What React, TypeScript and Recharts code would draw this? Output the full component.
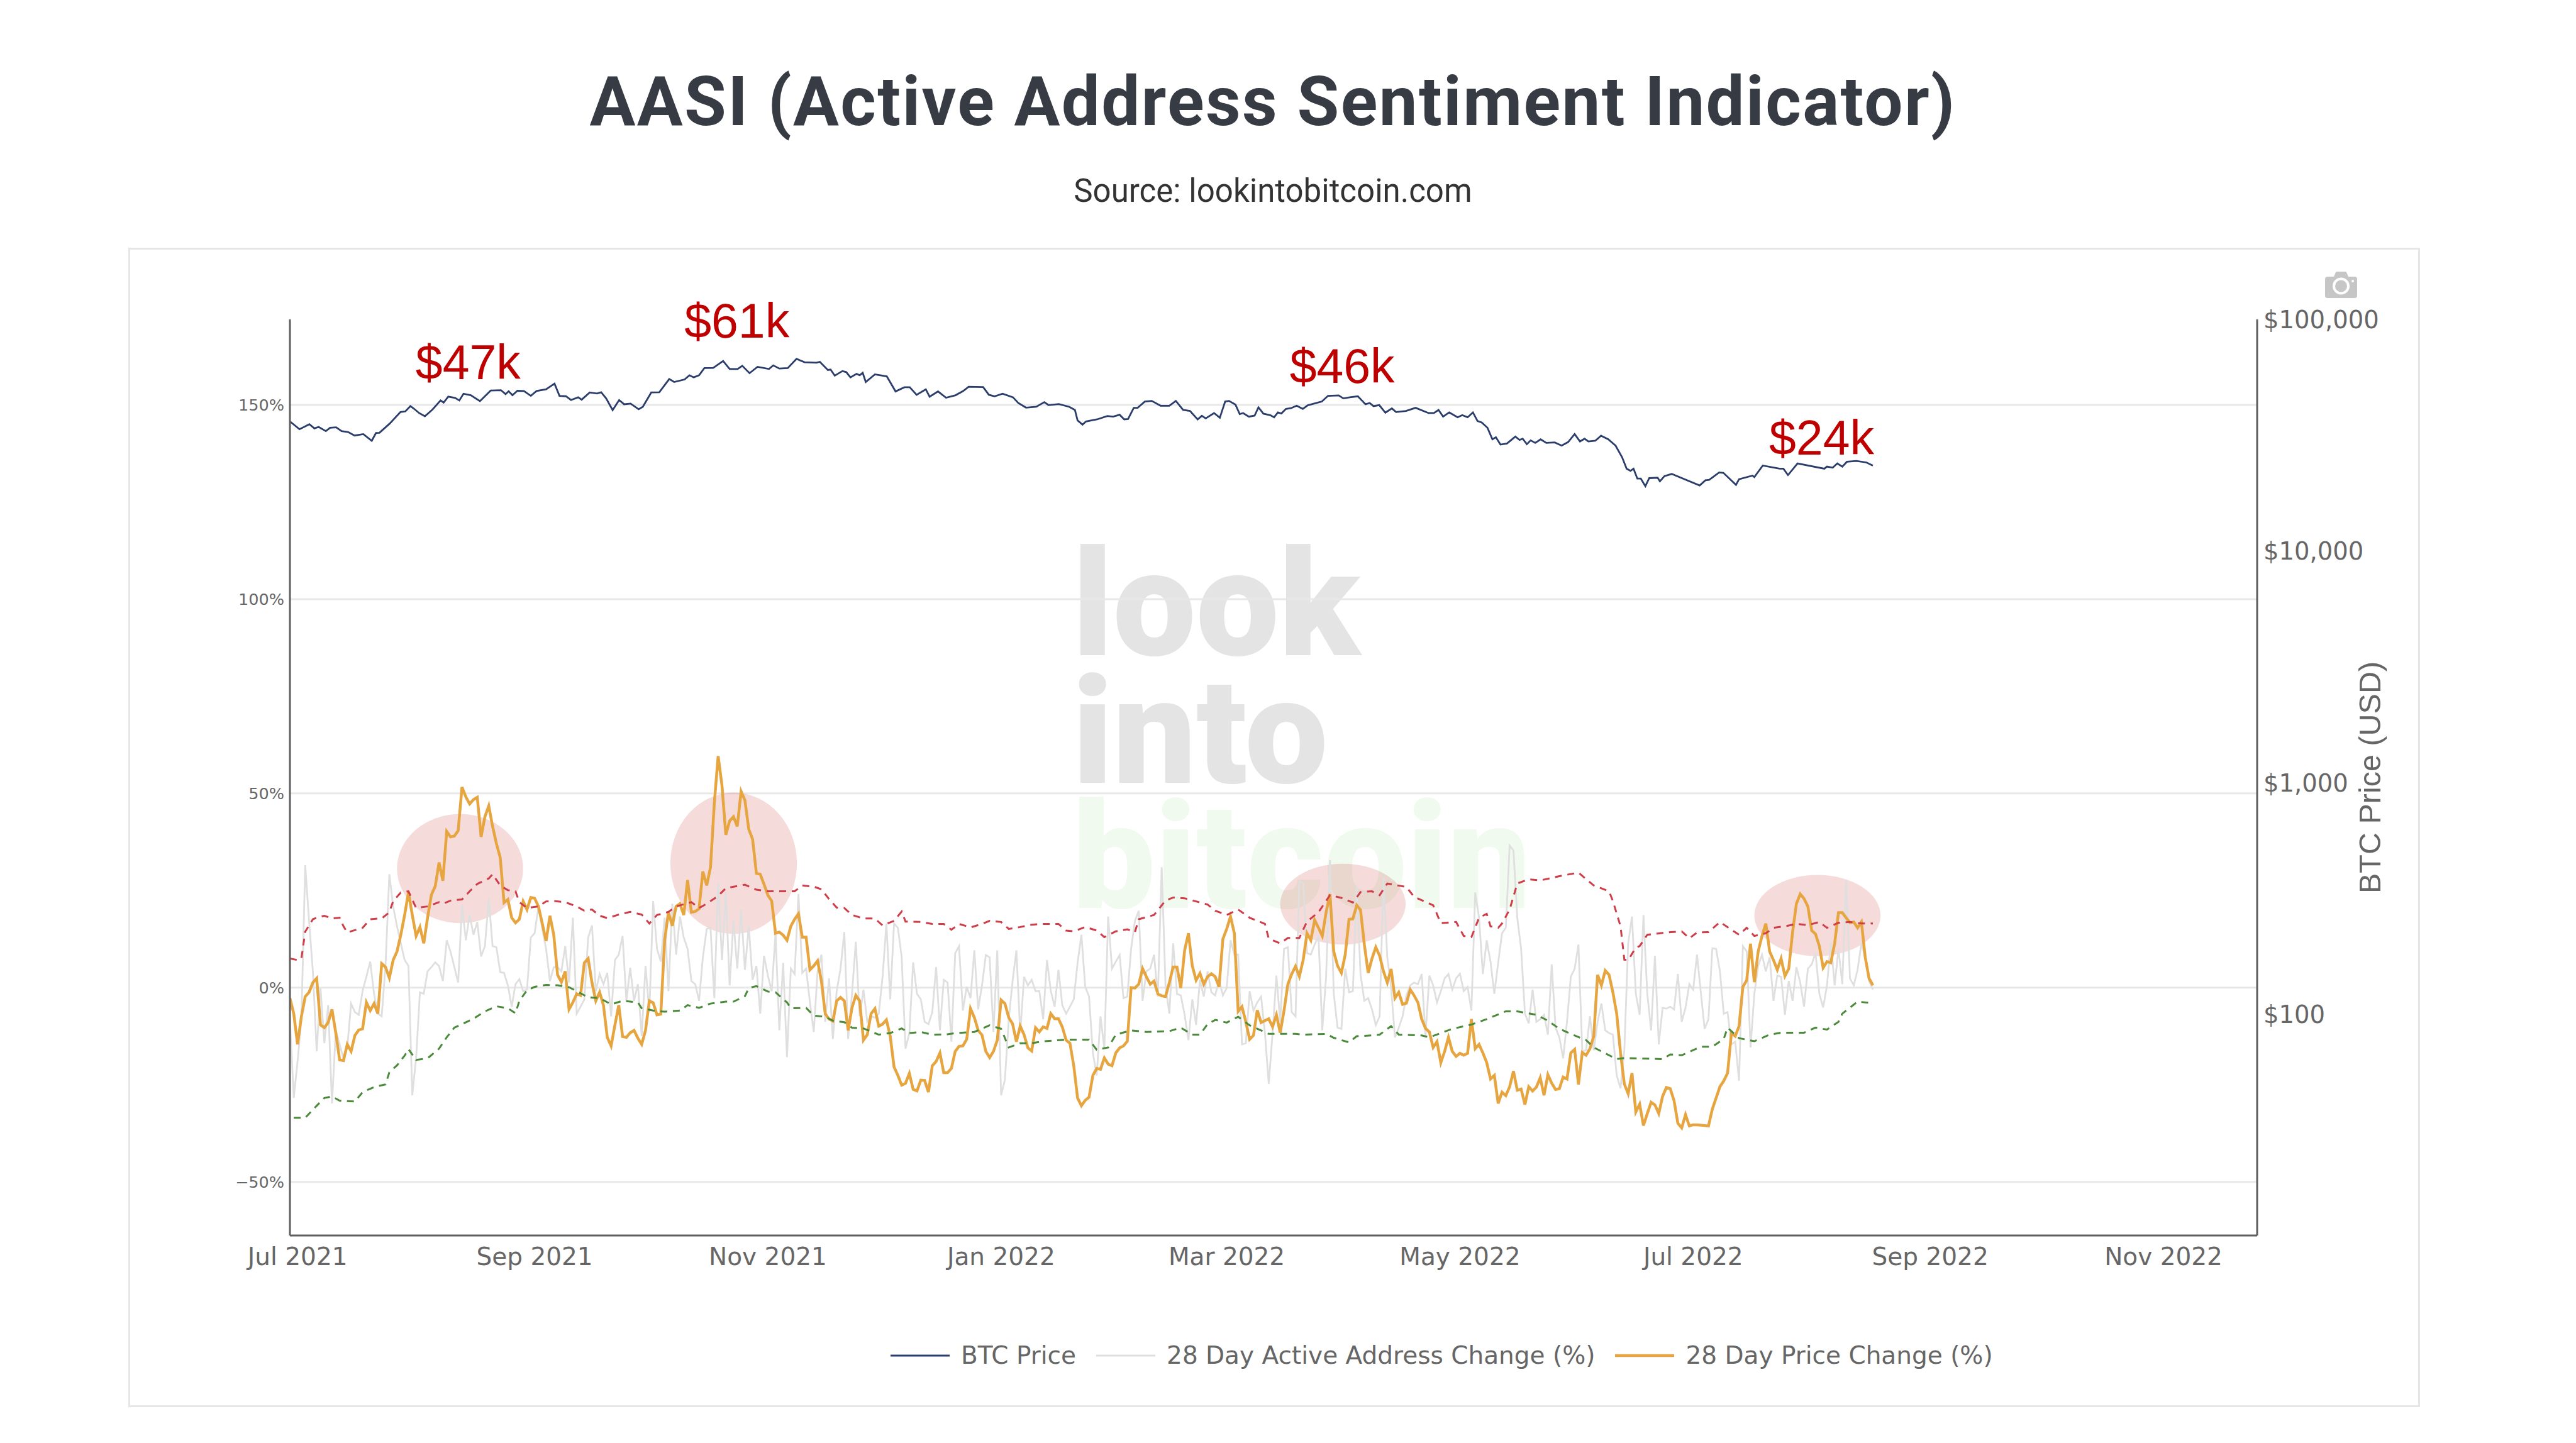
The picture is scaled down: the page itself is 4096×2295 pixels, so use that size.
import React from "react";
import {
  LineChart, Line, XAxis, YAxis, CartesianGrid, Legend, ReferenceArea, ReferenceDot,
} from "recharts";

// All x positions are days counted from 1 Jul 2021
const xTickDays = [0, 62, 123, 184, 243, 304, 365, 427, 488];
const xTickLabels = ["Jul 2021", "Sep 2021", "Nov 2021", "Jan 2022", "Mar 2022", "May 2022", "Jul 2022", "Sep 2022", "Nov 2022"];
const pctTicks = [-50, 0, 50, 100, 150];
const usdTicks = [100, 1000, 10000, 100000];
const firstDailyDay = -2;

const btcDays = [-2,0.5,3.1,4.4,5.5,7.4,8.5,10.1,11.5,13.2,14.9,17.2,19.4,20.5,21.4,24.1,26.9,28.2,29.5,30.5,31.8,33.3,35.3,37.4,38.2,39.4,41.2,42.3,43.4,45.3,47.7,50.5,53.2,54.4,55.2,56.2,57.5,59.2,61,62.5,65,67.2,68.5,70.2,71.5,73.4,74.3,76.4,78.3,79.4,80.7,82.4,84.1,85.4,87.1,89.2,90.3,92.5,94.6,97.2,98.5,101.2,102.5,103.6,105,106.4,108.7,111.3,113,115.1,116.3,118.2,120.3,123.3,124.4,126,128.2,130.5,132.6,135.7,136.6,138.7,139.4,140.5,142.5,143.5,144.6,146.2,147,147.8,148.6,151,154.1,156.4,158.7,160.1,161.9,164.3,165.3,167.5,169.6,172.1,174.1,175.5,179.3,180.8,182.3,184.4,187.1,188.5,190.5,193.2,195.3,196.4,199.1,201.8,
203.3,204,205.3,206.2,209.1,211.8,213.3,215,216.2,217.2,218.7,219.7,221.6,223.4,225.7,228,229.7,231.6,233.4,235.4,236.5,237.5,239.7,241.2,242.6,243.6,245.3,246.4,247.3,248.8,250.3,251.3,252.6,254.4,255.4,256.4,257.3,258.5,259.8,261.3,262.9,264.2,267.9,269.5,272.3,273.5,275.2,277.3,279.3,280.4,281.4,282.9,284.5,286.2,287.3,289.9,292.4,295.8,297.2,298.4,299.6,301.2,303.4,304.6,306,307.4,308.6,309.7,311.2,312.5,313.4,314.6,316.3,318.5,319.6,320.4,321.5,322.5,323.7,325.1,326.6,328.8,330.6,332.3,334,335.4,336.6,337.6,339.4,340.9,342.8,344.7,346.4,347.6,348.6,349.4,350.4,351.3,352.5,353.5,355.7,356.3,357.5,359.4,366.7,368.2,369.2,371.8,372.9,376.2,377,380.5,381,383.2,387.6,388.6,389.8,392.3,399.3,400,401.5,402.7,404,405.2,407.7,410.3,412];
const btcPrice = [36260,33560,35290,33850,34350,32940,34060,34210,32940,32660,31530,31990,29930,32320,32390,35510,39830,40080,42230,41100,39420,38200,40850,44680,43750,46390,45810,44680,47760,47070,44400,49300,49490,47560,48970,47070,49200,49100,46780,49100,49900,52800,46780,46580,44870,46100,45040,48370,47860,48470,45620,40600,44870,43030,43300,40930,41960,48370,48470,55280,53690,55050,57400,56210,57400,61630,61760,66150,61110,61110,63050,58610,62400,61110,63320,61370,61630,67550,65330,65060,65600,60470,60730,57160,59840,59220,56210,58250,57400,58850,53690,57890,56800,48870,50950,50950,47260,49900,46390,48870,45910,47070,49100,51170,51060,47260,46580,47760,46100,43570,41610,41960,43930,42670,43120,41960,
40680,36640,35140,36260,37020,38280,38040,38760,37020,37170,41530,41530,44210,44490,42400,42400,44490,40680,40250,37020,38360,37410,39420,37640,44210,44490,42850,39010,39420,38040,38440,41700,39170,38600,37800,39670,39260,41100,41360,42400,41100,42580,44210,46780,46970,45620,46100,46580,43030,43570,42230,42670,39580,41270,39830,40250,41530,39420,39420,40680,38040,39670,37800,38600,37800,39670,36410,35880,34060,30360,31000,28820,29130,31200,30170,30550,28940,30050,29310,30360,29310,29430,28520,29550,31990,29740,30550,29740,29930,31460,30360,28520,25440,22670,22200,22670,20550,20550,19060,20640,20730,20000,21070,21520,19190,20210,20300,21840,21750,19310,20420,21160,20850,23390,22670,22670,21290,23890,22670,23150,22910,23890,23150,24290,24490,24130,23390];

const priceChange = [-2.7,-6.7,-14.6,-7.4,-2.3,-1.2,1.3,2.4,-9.6,-10.3,-9.0,-5.6,-11.7,-18.6,-18.8,-14.6,-16.4,-12.3,-10.9,-10.6,-3.8,-5.9,-4.1,-6.7,6.2,5.3,2.5,7.1,9.3,13.6,18.7,24.5,18.7,13.3,15.6,11.4,18.0,23.9,26.1,32.2,27.5,40.2,38.8,39.0,40.4,51.6,49.1,47.3,48.4,49.0,38.8,44.0,46.8,41.5,37.1,33.5,21.9,22.7,18.0,16.7,17.6,22.2,20.1,23.2,23.0,20.9,16.5,12.0,18.5,13.6,3.3,1.4,4.2,-5.6,-3.8,-1.6,-2.0,6.4,7.5,1.3,-3.4,-1.2,-4.5,-12.8,-15.0,-9.6,-4.5,-12.6,-12.8,-11.6,-11.0,-13.0,-14.6,-11.0,-3.4,-3.9,-7.0,-6.8,12.2,19.4,15.9,20.9,21.6,18.7,27.7,19.4,19.6,20.3,29.9,26.3,31.0,47.6,59.6,52.0,39.3,42.9,44.0,41.5,50.5,48.2,40.8,38.2,29.4,29.2,26.6,23.8,22.3,14.0,14.3,13.5,12.2,15.8,17.6,19.0,13.0,13.0,4.6,5.6,
6.9,1.7,-6.7,-8.1,-8.6,-3.4,-2.5,-3.4,-11.0,-5.2,-2.0,-3.4,-13.5,-12.1,-6.7,-5.4,-9.9,-9.4,-8.3,-12.5,-20.4,-22.6,-25.1,-24.6,-22.1,-26.2,-26.6,-23.8,-23.9,-26.9,-20.1,-19.0,-16.8,-21.9,-21.9,-20.8,-16.4,-15.1,-15.0,-13.3,-5.4,-7.7,-11.0,-12.2,-16.4,-18.0,-16.4,-13.5,-3.2,-4.1,-7.7,-9.3,-13.9,-9.9,-12.1,-15.5,-16.3,-10.3,-11.4,-10.1,-10.5,-6.7,-8.0,-8.0,-10.1,-13.5,-14.3,-20.1,-28.4,-30.4,-29.0,-28.2,-22.6,-20.8,-21.0,-18.1,-19.7,-20.1,-16.8,-15.5,-15.0,-13.8,0,-0.1,0.9,4.9,2.8,0.9,1.7,-1.6,-2.1,-2.3,1.3,5.3,5.3,-0.1,9.6,14.0,5.6,1.9,3.7,0.9,2.8,3.6,2.8,0.2,12.5,15.1,18.3,14.0,-6.1,-4.9,-8.8,-13.3,-12.3,-5.8,-9.0,-8.5,-8.0,-10.1,-7.0,-11.6,-5.9,0.9,3.5,5.5,2.9,7.1,14.0,12.2,17.4,15.4,13.3,19.4,24.1,
9.3,5.6,3.8,8.5,17.6,17.7,21.2,20.0,11.1,3.8,7.5,10.4,8.2,4.2,1.3,4.8,-2.7,-1.2,-4.3,-4.0,-0.5,-2.0,-3.8,-8.1,-10.5,-11.4,-15.4,-13.9,-19.3,-16.4,-12.8,-16.4,-17.7,-16.9,-17.4,-16.9,-8.1,-15.7,-14.6,-16.8,-19.3,-23.5,-22.6,-29.8,-26.9,-27.8,-25.5,-21.5,-26.4,-26.1,-30.1,-25.5,-26.6,-25.6,-23.2,-27.7,-22.4,-24.6,-26.2,-26.0,-23.0,-23.5,-16.8,-15.9,-24.9,-16.7,-17.4,-15.7,-12.5,3.3,0.6,4.4,3.3,-1.2,-6.7,-16.8,-24.8,-27.3,-22.0,-32.0,-30.0,-35.5,-32.4,-29.5,-30.2,-32.4,-28.0,-25.7,-26.0,-29.1,-34.9,-36.1,-32.7,-35.6,-35.3,-35.3,-35.4,-35.5,-35.6,-31.3,-28.4,-25.5,-24.0,-22.0,-11.7,-12.5,-9.9,0.2,1.9,11.3,1.4,9.3,13.3,16.5,9.3,7.1,4.6,7.5,3.0,4.9,14.3,21.6,24.1,22.9,20.9,14.7,13.8,10.7,5.1,6.7,6.4,11.4,19.3,19.3,18.0,16.7,16.9,15.4,16.9,7.8,2.4,0.6];

const addressChange = [-8.1,-28.4,-19.0,-8.1,31.5,17.2,4.2,-16.4,-0.1,-14.3,-4.5,-29.8,-11.0,-14.6,-18.2,-15.4,-4.1,-6.3,-7.0,-0.9,2.8,6.7,-1.6,-6.7,-7.4,5.6,29.2,20.9,15.8,11.4,7.1,5.6,-27.7,-18.2,-1.2,-1.6,4.2,5.3,6.5,5.6,1.7,12.2,9.3,5.3,1.3,21.2,12.2,18.7,13.6,16.9,8.0,10.7,22.9,10.7,10.4,4.0,3.8,0.6,-4.9,0.9,2.2,-0.9,-0.5,12.9,14.0,20.9,15.1,10.0,1.7,5.3,5.3,4.2,10.7,1.3,18.0,-6.7,-4.9,-3.0,12.9,16.0,-0.9,3.5,0.9,3.8,-7.4,7.1,8.5,13.3,-3.4,5.1,-3.4,0.9,-12.5,5.6,-6.3,22.3,10.0,6.7,18.0,-0.9,21.6,8.5,18.3,12.9,10.0,1.7,0.9,-3.4,7.8,15.1,15.4,-2.7,27.0,7.1,24.5,0.6,17.2,4.9,20.1,4.6,15.8,2.0,5.6,-6.7,8.2,3.1,-0.9,14.0,-11.0,6.4,-17.9,4.9,3.5,24.1,3.8,4.9,-3.8,-11.4,
4.2,8.5,-8.8,2.4,-13.2,-0.9,4.9,14.3,-13.2,-1.6,11.8,-7.4,-0.5,-8.8,-7.4,-7.7,-6.7,2.8,16.5,-3.0,16.5,15.4,7.8,-15.7,-11.7,6.5,-1.6,-3.0,-8.8,-9.4,-6.3,5.3,-11.0,2.0,1.3,-13.9,8.9,10.7,-5.9,0.2,-2.7,9.6,-5.6,0.6,8.4,7.8,-11.4,9.6,-27.7,-23.7,-8.1,1.7,9.6,-11.7,2.8,0.6,2.0,-0.9,-0.9,-8.1,7.1,-0.9,-4.9,4.6,-4.5,-6.7,-4.9,-3.0,6.4,13.6,0.2,-2.3,-16.8,-22.6,-7.4,-15.7,18.3,4.9,6.7,8.4,-2.7,-2.3,10.0,17.2,19.8,-3.4,4.2,4.9,8.5,-2.3,31.0,0.6,-6.7,11.4,-1.6,-2.0,-7.0,-13.5,-3.0,-9.6,2.0,-2.3,4.2,-1.2,-2.0,2.0,-2.0,-0.1,12.2,8.5,8.5,-14.6,-14.3,-0.9,-5.9,-3.8,-2.3,-11.7,-24.8,-11.7,3.1,-8.8,10.0,10.4,-6.3,-7.4,27.4,27.0,8.9,8.5,11.1,13.3,-11.0,2.8,32.8,
-1.6,-10.3,-10.6,4.9,-1.2,-0.9,26.3,3.5,-3.4,-2.7,-5.6,-9.6,-7.4,28.5,7.8,-0.1,-12.8,-10.3,-7.4,-2.0,0.6,1.3,0.9,3.5,-12.5,3.1,0.6,-3.8,-0.9,2.4,3.5,-0.5,2.4,3.6,-0.9,0.2,-5.9,24.5,18.0,3.5,12.2,6.7,-1.6,6.4,14.0,15.4,36.6,35.3,18.0,10.0,-6.7,-9.2,-0.5,-8.8,-8.1,-7.0,-12.1,6.0,-10.3,-12.8,-18.2,-8.8,2.8,4.9,11.1,-16.4,-16.1,-7.4,-16.1,-8.8,-4.1,-11.0,-11.7,-12.1,-22.6,-25.9,-16.1,11.4,18.3,-1.6,-7.0,18.7,-1.6,-11.0,8.2,-14.6,-5.2,-5.4,-4.9,-5.6,3.5,-8.8,-5.2,0.9,-0.5,8.5,-1.2,-10.6,-8.1,10.1,10.0,4.2,-6.7,-6.3,-14.6,-13.9,-24.0,10.7,9.3,-15.4,-1.6,5.6,8.5,4.2,7.8,-3.4,3.1,2.8,-7.0,1.7,-3.4,5.3,1.3,-4.9,4.9,6.0,8.9,-1.6,-5.1,0.6,11.8,0.6,10.0,0.9,27.7,2.4,0.6,4.6,11.4,7.8,1.7,-0.5];

const upperBandDays = [-2,0,1,2,4,5,7,9,11,12,13,14,17,19,21,22,24,25,27,29,31,34,37,38,40,43,45,47,50,51,53,55,57,58,60,63,65,67,70,73,75,77,79,81,84,87,90,92,94,97,99,103,105,107,110,112,117,120,123,130,132,135,137,139,141,143,145,148,151,153,156,158,159,163,166,169,171,173,176,179,181,184,186,189,192,195,199,201,203,206,209,211,214,217,219,220,224,227,229,232,235,238,240,243,246,249,251,253,254,257,259,262,264,267,270,273,276,278,281,283,285,290,292,297,299,303,305,307,309,311,312,314,315,317,319,322,325,330,335,339,343,344,346,347,348,350,351,353,357,362,364,366,369,372,375,377,379,381,384,386,389,392,395,398,400,403,406,409,412];
const upperBand = [7.5,7.1,7.5,14.4,17.6,18.0,18.5,17.8,18.0,15.8,14.2,14.5,15.4,17.6,17.8,17.8,19.4,22.3,24.5,24.8,20.5,20.9,22.0,21.6,22.4,22.7,24.8,26.7,28.1,29.2,26.3,25.1,24.8,22.0,20.5,20.9,22.2,22.3,22.0,20.9,19.8,20.1,18.5,17.9,18.8,19.5,18.8,16.5,18.7,19.5,20.9,22.0,20.5,21.6,23.6,25.6,26.5,25.2,24.8,24.8,26.3,26.0,25.3,22.8,20.6,20.5,18.7,17.8,17.8,16.0,17.2,19.6,17.0,16.9,16.4,16.4,14.9,16.4,15.5,16.4,17.2,16.9,15.1,15.6,16.2,16.4,16.4,14.7,14.5,15.6,14.7,13.0,14.5,15.0,14.3,17.6,18.7,22.4,23.2,23.0,22.2,21.4,19.8,18.7,20.1,18.0,17.2,16.4,12.6,11.4,12.8,12.8,17.0,19.4,23.8,23.1,21.9,24.6,24.8,23.8,26.8,25.9,23.4,21.2,16.6,16.9,13.3,13.0,18.0,19.0,15.8,15.4,16.5,20.1,26.8,27.9,27.6,28.7,29.6,26.3,24.8,22.3,15.8,7.2,7.1,10.3,10.7,13.6,14.1,14.5,12.7,14.2,14.3,16.9,14.9,13.6,15.4,13.3,14.0,15.4,15.8,16.4,16.1,16.9,15.4,16.7,16.9,16.5,16.5];

const lowerBandDays = [-1,2,5,7,9,11,15,17,20,23,24,26,28,29,31,34,37,39,41,46,49,52,55,57,58,60,62,65,68,71,73,76,79,82,85,89,90,93,96,100,102,105,108,112,114,117,118,120,123,125,128,129,133,135,138,140,143,145,148,152,155,158,160,163,166,170,172,177,181,184,186,189,192,195,201,207,209,212,214,218,222,228,231,234,236,238,240,243,246,249,254,261,263,269,271,275,277,281,283,286,288,294,296,299,302,307,311,316,319,324,327,330,334,337,339,345,347,357,359,362,367,370,373,374,377,381,385,388,394,397,400,403,404,408,412];
const lowerBand = [-33.5,-33.5,-30.4,-28.4,-28.0,-29.1,-29.3,-26.9,-25.6,-24.9,-21.8,-20.0,-17.5,-15.8,-18.6,-18.2,-15.7,-12.8,-10.3,-8.0,-6.1,-4.8,-5.3,-6.6,-3.4,-0.7,0.2,0.7,0.6,0.1,-0.9,-2.5,-2.7,-4.3,-3.4,-3.8,-5.3,-5.9,-6.2,-5.9,-4.5,-5.2,-4.1,-3.6,-3.6,-2.2,-0.1,0.4,-1.0,-1.2,-3.8,-5.3,-5.2,-7.2,-7.5,-8.5,-8.9,-10.3,-10.5,-12.1,-11.7,-10.5,-11.7,-11.4,-12.1,-12.0,-11.7,-11.4,-9.7,-10.6,-15.4,-14.3,-14.3,-13.8,-13.4,-13.4,-16.0,-15.4,-12.1,-11.0,-11.4,-11.2,-10.3,-12.1,-12.1,-9.4,-8.3,-9.0,-7.5,-9.7,-11.9,-11.9,-12.1,-11.9,-12.9,-14.1,-12.5,-12.3,-12.1,-9.9,-12.1,-12.3,-12.8,-11.7,-10.6,-9.5,-8.1,-6.1,-6.1,-7.0,-8.5,-10.6,-12.3,-13.5,-15.4,-18.4,-18.1,-18.4,-17.2,-17.4,-15.2,-15.2,-13.2,-10.3,-13.0,-13.8,-12.1,-11.6,-11.6,-10.3,-10.8,-8.8,-6.7,-3.6,-4.0];

const highlightDays = [[26, 59], [97.5, 130.6], [257, 289.8], [381, 414]];
const highlightPct = [[16.6, 44.7], [13.8, 50.2], [11.1, 31.9], [8.1, 29]];
const noteLabels = ["$47k", "$61k", "$46k", "$24k"];
const noteDays = [44.6, 114.9, 273.2, 398.6];
const notePct = [161, 171.8, 160, 141.7];

const btcData = btcDays.map((day, i) => ({ day, value: btcPrice[i] }));
const priceData = priceChange.map((value, i) => ({ day: firstDailyDay + i, value }));
const addressData = addressChange.map((value, i) => ({ day: firstDailyDay + i, value }));
const upperData = upperBandDays.map((day, i) => ({ day, value: upperBand[i] }));
const lowerData = lowerBandDays.map((day, i) => ({ day, value: lowerBand[i] }));

const AXIS = "#5f5f5f";
const TICK_FONT = "'DejaVu Sans', Verdana, sans-serif";
const legendOrder = ["BTC Price", "28 Day Active Address Change (%)", "28 Day Price Change (%)"];

const Ellipse = (p: any) => (
  <ellipse cx={p.x + p.width / 2} cy={p.y + p.height / 2} rx={Math.abs(p.width) / 2} ry={Math.abs(p.height) / 2} fill="#c00000" fillOpacity={0.14} />
);

const LegendContent = ({ payload }: any) => {
  const items = legendOrder.map((n) => (payload || []).find((e: any) => e.value === n)).filter(Boolean);
  return (
    <div style={{ display: "flex", alignItems: "center", fontFamily: TICK_FONT, fontSize: 39, color: "#666", whiteSpace: "nowrap" }}>
      {items.map((e: any, i: number) => (
        <div key={i} style={{ display: "flex", alignItems: "center", marginRight: 32 }}>
          <svg width={94} height={10} style={{ marginRight: 18 }}>
            <line x1={0} x2={94} y1={5} y2={5} stroke={e.color} strokeWidth={i === 2 ? 4.5 : 3} />
          </svg>
          <span>{e.value}</span>
        </div>
      ))}
    </div>
  );
};

const wm: React.CSSProperties = {
  position: "absolute", left: 1705, fontFamily: "Roboto, sans-serif", fontWeight: 900, fontSize: 235, lineHeight: "235px", whiteSpace: "nowrap",
};

export default function App() {
  return (
    <div style={{ position: "absolute", left: 0, top: 0, width: 4096, height: 2295, background: "#fff", overflow: "hidden" }}>
      <div style={{ position: "absolute", left: 0, width: 4048, top: 94, textAlign: "center", fontFamily: "Roboto, sans-serif", fontWeight: 700, fontSize: 108.5, lineHeight: "136px", color: "#373b44", letterSpacing: 2.4, whiteSpace: "nowrap" }}>
        AASI (Active Address Sentiment Indicator)
      </div>
      <div style={{ position: "absolute", left: 0, width: 4048, top: 271, textAlign: "center", fontFamily: "Roboto, sans-serif", fontSize: 51, lineHeight: "66px", color: "#333", whiteSpace: "nowrap" }}>
        Source: lookintobitcoin.com
      </div>
      <div style={{ position: "absolute", left: 203.5, top: 394, width: 3638.7, height: 1837.5, border: "3px solid #e6e6e6" }} />

      <div style={{ ...wm, top: 844, color: "#e4e4e4" }}>look</div>
      <div style={{ ...wm, top: 1047, color: "#e4e4e4" }}>into</div>
      <div style={{ ...wm, top: 1246, color: "#f0faee" }}>bitcoin</div>

      <svg style={{ position: "absolute", left: 3697, top: 432 }} width={51} height={42} viewBox="0 0 51 42">
        <path d="M4 8 H14 L17 1 Q17.5 0 19 0 H32 Q33.5 0 34 1 L37 8 H47 Q51 8 51 12 V38 Q51 42 47 42 H4 Q0 42 0 38 V12 Q0 8 4 8 Z" fill="#c6c6c6" />
        <circle cx={25.5} cy={23} r={11.5} fill="none" stroke="#fff" strokeWidth={4} />
        <circle cx={44} cy={15} r={2} fill="#fff" />
      </svg>

      <div style={{ position: "absolute", left: 0, top: 0 }}>
        <LineChart width={4096} height={2295} margin={{ top: 508, left: 361, right: 307, bottom: 180 }}>
          <CartesianGrid vertical={false} yAxisId="pct" syncWithTicks stroke="#e8e8e8" strokeWidth={3} />
          <XAxis
            dataKey="day" type="number" domain={[-2, 512.5]} ticks={xTickDays} interval={0} height={100}
            tickFormatter={(d: number) => xTickLabels[xTickDays.indexOf(d)]}
            tickLine={false} tickSize={0} tickMargin={19}
            axisLine={{ stroke: AXIS, strokeWidth: 3 }}
            tick={{ fill: "#666", fontSize: 39, fontFamily: TICK_FONT }}
            allowDataOverflow
          />
          <YAxis
            yAxisId="pct" type="number" domain={[-63.8, 172]} ticks={pctTicks} interval={0} width={100}
            tickFormatter={(v: number) => (v < 0 ? "\u2212" + Math.abs(v) : v) + "%"}
            tickLine={false} tickSize={0} tickMargin={9}
            axisLine={{ stroke: AXIS, strokeWidth: 3 }}
            tick={{ fill: "#666", fontSize: 25.5, fontFamily: TICK_FONT }}
            allowDataOverflow
          />
          <YAxis
            yAxisId="usd" orientation="right" type="number" scale="log" domain={[11.1, 100000]} ticks={usdTicks} interval={0} width={200}
            tickFormatter={(v: number) => "$" + v.toLocaleString("en-US")}
            tickLine={false} tickSize={0} tickMargin={10}
            axisLine={{ stroke: AXIS, strokeWidth: 3 }}
            tick={{ fill: "#666", fontSize: 38.5, fontFamily: TICK_FONT }}
            allowDataOverflow
            label={{ value: "BTC Price (USD)", angle: -90, position: "insideRight", dx: -16, style: { fill: "#666", fontSize: 48.5, fontFamily: "'Liberation Sans', Arial, sans-serif", textAnchor: "middle" } }}
          />
          {highlightDays.map((d, i) => (
            <ReferenceArea key={i} yAxisId="pct" x1={d[0]} x2={d[1]} y1={highlightPct[i][0]} y2={highlightPct[i][1]} shape={<Ellipse />} ifOverflow="visible" />
          ))}
          <Line yAxisId="pct" name="28 Day Active Address Change (%)" data={addressData} dataKey="value" stroke="#dfdfdf" strokeWidth={2.8} dot={false} activeDot={false} isAnimationActive={false} />
          <Line yAxisId="usd" name="BTC Price" data={btcData} dataKey="value" stroke="#2b3d6b" strokeWidth={2.8} dot={false} activeDot={false} isAnimationActive={false} />
          <Line yAxisId="pct" name="28 Day Price Change (%)" data={priceData} dataKey="value" stroke="#e6a53f" strokeWidth={4.5} dot={false} activeDot={false} isAnimationActive={false} />
          <Line yAxisId="pct" name="Upper band" legendType="none" data={upperData} dataKey="value" stroke="#cf3e48" strokeWidth={3} strokeDasharray="11 9" dot={false} activeDot={false} isAnimationActive={false} />
          <Line yAxisId="pct" name="Lower band" legendType="none" data={lowerData} dataKey="value" stroke="#4a8a3a" strokeWidth={3} strokeDasharray="11 9" dot={false} activeDot={false} isAnimationActive={false} />
          {noteLabels.map((t, i) => (
            <ReferenceDot key={t} yAxisId="pct" x={noteDays[i]} y={notePct[i]} r={0} ifOverflow="visible"
              label={{ value: t, position: "center", style: { fill: "#bf0000", fontSize: 77, fontFamily: "'Liberation Sans', Arial, sans-serif" } }} />
          ))}
          <Legend
            content={<LegendContent />}
            wrapperStyle={{ position: "absolute", left: 1416, top: 2133, width: 1800, height: 50, bottom: "auto" }}
          />
        </LineChart>
      </div>
    </div>
  );
}
